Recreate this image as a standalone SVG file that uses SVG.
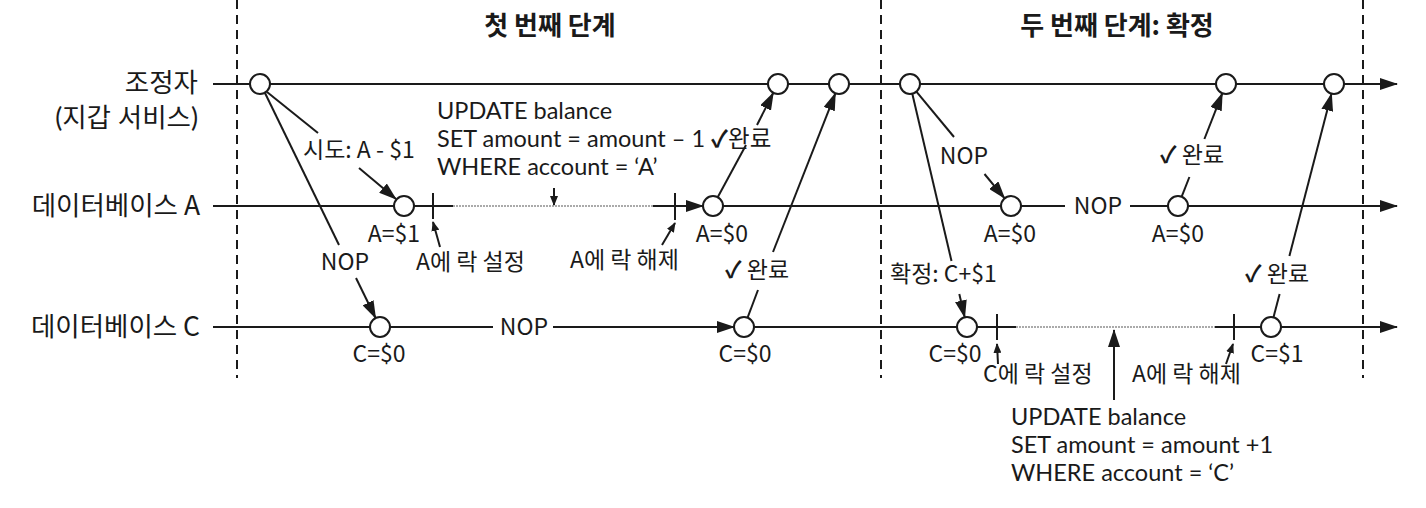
<svg xmlns="http://www.w3.org/2000/svg" width="1426" height="508" viewBox="0 0 1426 508">
<style>
text{font-family:"Noto Sans CJK KR","Noto Sans",sans-serif;font-size:23px;fill:#1a1a1a}
.sql{font-family:Lato,"Noto Sans CJK KR",sans-serif;font-size:23.5px}
.title{font-size:26px;font-weight:bold}
.lbl{text-anchor:end;font-size:26.5px}
.two{font-family:Lato,"Noto Sans CJK KR",sans-serif}
.mid{text-anchor:middle}
.ck{font-weight:bold}
.ln{stroke:#1a1a1a;stroke-width:2;fill:none}
.dot{stroke:#aaa;stroke-width:2;stroke-dasharray:2 1;fill:none}
.phase{stroke:#1a1a1a;stroke-width:2;stroke-dasharray:9 6;fill:none}
.nd{fill:#fff;stroke:#1a1a1a;stroke-width:2}
.arr{marker-end:url(#ah)}
.sarr{marker-end:url(#sh)}
</style>
<defs>
<marker id="ah" markerWidth="18" markerHeight="12" refX="17" refY="6" orient="auto" markerUnits="userSpaceOnUse"><path d="M0,0 L18,6 L0,12 z" fill="#1a1a1a"/></marker>
<marker id="sh" markerWidth="10" markerHeight="8" refX="9" refY="4" orient="auto" markerUnits="userSpaceOnUse"><path d="M0,0 L10,4 L0,8 z" fill="#1a1a1a"/></marker>
</defs>
<rect width="1426" height="508" fill="#fff"/>

<g id="phases">
<line class="phase" x1="237" y1="0" x2="237" y2="378"/>
<line class="phase" x1="881" y1="0" x2="881" y2="378"/>
<line class="phase" x1="1363" y1="0" x2="1363" y2="378"/>
<text class="title mid" x="550" y="35">첫 번째 단계</text>
<text class="title mid" x="1117" y="35">두 번째 단계: 확정</text>
</g>

<g id="connectors">
<!-- lifelines -->
<line class="ln arr" x1="213" y1="84" x2="1397" y2="84"/>
<line class="ln" x1="213" y1="206" x2="453" y2="206"/>
<line class="dot" x1="453" y1="206" x2="653" y2="206"/>
<line class="ln arr" x1="653" y1="206" x2="703" y2="206"/>
<line class="ln" x1="723" y1="206" x2="1065" y2="206"/>
<line class="ln arr" x1="1130" y1="206" x2="1397" y2="206"/>
<line class="ln" x1="213" y1="327" x2="493" y2="327"/>
<line class="ln arr" x1="553" y1="327" x2="734" y2="327"/>
<line class="ln" x1="754" y1="327" x2="1016" y2="327"/>
<line class="dot" x1="1016" y1="327" x2="1215" y2="327"/>
<line class="ln arr" x1="1215" y1="327" x2="1397" y2="327"/>
<!-- ticks -->
<line class="ln" x1="433" y1="193" x2="433" y2="219"/>
<line class="ln" x1="675" y1="193" x2="675" y2="220"/>
<line class="ln" x1="997" y1="314" x2="997" y2="340"/>
<line class="ln" x1="1234" y1="314" x2="1234" y2="340"/>
<!-- tick pointer arrows -->
<line class="ln sarr" x1="440" y1="247" x2="433" y2="222"/>
<line class="ln sarr" x1="662" y1="245" x2="675" y2="223"/>
<line class="ln sarr" x1="998" y1="364" x2="997" y2="344"/>
<line class="ln sarr" x1="1226" y1="364" x2="1233" y2="344"/>
<line class="ln sarr" x1="554" y1="188" x2="554" y2="205"/>
<line class="ln arr" x1="1114" y1="400" x2="1114" y2="330"/>
<!-- phase 1 messages -->
<line class="ln" x1="267" y1="92" x2="318" y2="133"/>
<line class="ln arr" x1="359" y1="168" x2="396" y2="199"/>
<line class="ln" x1="265" y1="93" x2="339" y2="245"/>
<line class="ln arr" x1="356" y1="278" x2="375.6" y2="318"/>
<line class="ln" x1="717.7" y1="197.2" x2="746" y2="145"/>
<line class="ln arr" x1="757" y1="125" x2="773.3" y2="92.8"/>
<line class="ln" x1="747.6" y1="317.7" x2="758" y2="290"/>
<line class="ln arr" x1="773" y1="252" x2="835.4" y2="93.3"/>
<!-- phase 2 messages -->
<line class="ln" x1="916.4" y1="91.7" x2="954" y2="137"/>
<line class="ln arr" x1="984.5" y1="174" x2="1004.6" y2="198.3"/>
<line class="ln" x1="912.3" y1="93.7" x2="951.5" y2="261"/>
<line class="ln arr" x1="959.3" y1="294" x2="964.7" y2="317.3"/>
<line class="ln" x1="1181.7" y1="196.7" x2="1189.4" y2="177"/>
<line class="ln arr" x1="1204.4" y1="139" x2="1222.3" y2="93.3"/>
<line class="ln" x1="1273.5" y1="317.3" x2="1279.6" y2="294"/>
<line class="ln arr" x1="1289.4" y1="256" x2="1331.5" y2="93.7"/>
</g>

<g id="coordinator">
<text class="lbl two"><tspan x="198" y="92">조정자</tspan><tspan x="198" y="127">(지갑 서비스)</tspan></text>
<circle class="nd" cx="260" cy="84" r="10"/>
<circle class="nd" cx="778" cy="84" r="10"/>
<circle class="nd" cx="839" cy="84" r="10"/>
<circle class="nd" cx="910" cy="84" r="10"/>
<circle class="nd" cx="1226" cy="84" r="10"/>
<circle class="nd" cx="1334" cy="84" r="10"/>
</g>

<g id="dbA">
<text class="lbl" x="200" y="215">데이터베이스 A</text>
<circle class="nd" cx="404" cy="206" r="10"/>
<circle class="nd" cx="713" cy="206" r="10"/>
<circle class="nd" cx="1011" cy="206" r="10"/>
<circle class="nd" cx="1178" cy="206" r="10"/>
<text class="mid" x="394" y="242">A=$1</text>
<text x="416" y="270">A에 락 설정</text>
<text x="570" y="268">A에 락 해제</text>
<text class="mid" x="722" y="242">A=$0</text>
<text class="mid" x="1098" y="214">NOP</text>
<text class="mid" x="1010" y="242">A=$0</text>
<text class="mid" x="1178" y="242">A=$0</text>
</g>

<g id="dbC">
<text class="lbl" x="200" y="336">데이터베이스 C</text>
<circle class="nd" cx="380" cy="327" r="10"/>
<circle class="nd" cx="744" cy="327" r="10"/>
<circle class="nd" cx="967" cy="327" r="10"/>
<circle class="nd" cx="1271" cy="327" r="10"/>
<text class="mid" x="524" y="335">NOP</text>
<text class="mid" x="379" y="362">C=$0</text>
<text class="mid" x="745" y="362">C=$0</text>
<text class="mid" x="955" y="362">C=$0</text>
<text x="983" y="382">C에 락 설정</text>
<text x="1132" y="382">A에 락 해제</text>
<text class="mid" x="1277" y="362">C=$1</text>
</g>

<g id="labels">
<text x="303" y="158">시도: A - $1</text>
<text class="mid" x="345" y="270">NOP</text>
<text class="sql"><tspan x="437" y="119">UPDATE balance</tspan><tspan x="437" y="147">SET amount = amount – 1 <tspan class="ck">✓</tspan>완료</tspan><tspan x="437" y="175">WHERE account = ‘A’</tspan></text>
<text x="725" y="278"><tspan class="ck">✓</tspan> 완료</text>
<text class="mid" x="964" y="164">NOP</text>
<text x="890" y="282">확정: C+$1</text>
<text x="1160" y="163"><tspan class="ck">✓</tspan> 완료</text>
<text x="1245" y="282"><tspan class="ck">✓</tspan> 완료</text>
<text class="sql"><tspan x="1011" y="425">UPDATE balance</tspan><tspan x="1011" y="453">SET amount = amount +1</tspan><tspan x="1011" y="481">WHERE account = ‘C’</tspan></text>
</g>
</svg>
